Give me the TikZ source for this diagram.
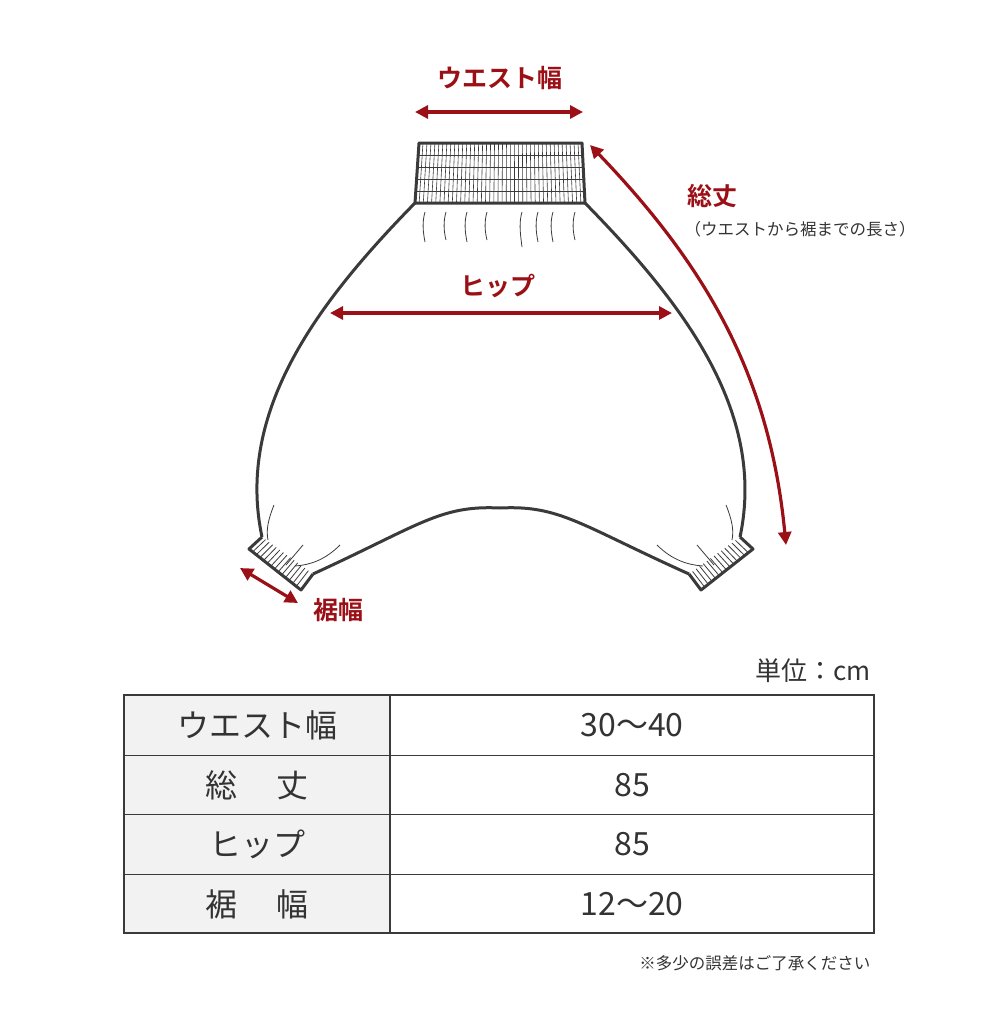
\documentclass[tikz,border=0pt]{standalone}
\usepackage{fontspec}
\setmainfont{Noto Sans CJK JP}[BoldFont={Noto Sans CJK JP Bold}]
\usetikzlibrary{arrows.meta,calc}
\definecolor{dred}{HTML}{9B1016}
\definecolor{ink}{HTML}{3A3A3A}
\definecolor{txt}{HTML}{333333}
\tikzset{
 outl/.style={draw=ink,line width=3pt,line join=round},
 thin/.style={draw=ink,line width=0.8pt},
 meas/.style={draw=dred,line width=3.2pt,{Triangle[length=13pt,width=13pt]}-{Triangle[length=13pt,width=13pt]}},
 lab/.style={text=dred,font=\fontsize{25}{25}\selectfont\bfseries},
 cell/.style={text=txt,font=\fontsize{32}{32}\selectfont}
}
\begin{document}
\begin{tikzpicture}[x=1pt,y=-1pt]
\useasboundingbox (0,0) rectangle (998,1033);
% waistband
\coordinate (wTL) at (419,143); \coordinate (wTR) at (582,143);
\coordinate (wBL) at (415,203); \coordinate (wBR) at (585,203);
\foreach \i in {1,...,40}{\draw[thin,line width=0.6pt] ($(wTL)!\i/41!(wTR)$) -- ($(wBL)!\i/41!(wBR)$);}
\foreach \t in {0.2,0.4,0.6,0.8}{\draw[thin,line width=0.6pt] ($(wTL)!\t!(wBL)$) -- ($(wTR)!\t!(wBR)$);}
\draw[outl] (wTL) -- (wTR) -- (wBR) -- (wBL) -- cycle;
% body
\coordinate (lA) at (262,537); \coordinate (lB) at (313,574);
\coordinate (rA) at (689,574); \coordinate (rB) at (740,537);
\draw[outl] (wBL) .. controls (320,300) and (235,410) .. (lA);
\draw[outl] (wBR) .. controls (680,300) and (767,410) .. (rB);
\draw[outl] (lB) .. controls (420,525) and (440,505) .. (500,508) .. controls (560,505) and (580,525) .. (rA);
% cuffs
\coordinate (lC) at (249,549); \coordinate (lD) at (301,590);
\coordinate (rC) at (701,590); \coordinate (rD) at (753,549);
\foreach \t in {0.07,0.14,...,0.95}{\draw[thin] ($(lA)!\t!(lB)$) -- ($(lC)!\t!(lD)$); \draw[thin] ($(rA)!\t!(rB)$) -- ($(rC)!\t!(rD)$);}
\draw[outl] (lA) -- (lC) -- (lD) -- (lB);
\draw[outl] (rB) -- (rD) -- (rC) -- (rA);
% gathers
\foreach \x/\l in {425/30,446/28,467/30,487/28,522/35,538/30,553/30,575/28}{\draw[thin] (\x,212) .. controls (\x-3,222) and (\x-2,232) .. (\x,212+\l);}
\draw[thin] (274,505) .. controls (268,520) and (266,530) .. (268,540);
\draw[thin] (303,545) -- (286,565);
\draw[thin] (340,545) .. controls (325,560) and (310,565) .. (295,566);
\draw[thin] (726,505) .. controls (732,520) and (734,530) .. (732,540);
\draw[thin] (697,545) -- (714,565);
\draw[thin] (657,545) .. controls (672,560) and (688,565) .. (703,566);
% measurements
\node[lab] (tw) at (500,78) {ウエスト幅};
\coordinate (w1) at (415,112); \coordinate (w2) at (583,112);
\draw[meas] (w1) -- (w2);
\node[lab] (th) at (498,286) {ヒップ};
\coordinate (h1) at (330,313); \coordinate (h2) at (672,313);
\draw[meas] (h1) -- (h2);
\node[lab] (tl) at (712,196) {総丈};
\node[text=txt,font=\fontsize{16.5}{16.5}\selectfont] (ts) at (800,229) {（ウエストから裾までの長さ）};
\coordinate (l1) at (590,145); \coordinate (l2) at (786,545);
\draw[meas] (l1) .. controls (710,270) and (770,380) .. (l2);
\node[lab] (tc) at (338,610) {裾幅};
\coordinate (c1) at (240,568); \coordinate (c2) at (298,603);
\draw[meas] (c1) -- (c2);
% table
\node[anchor=east,text=txt,font=\fontsize{26}{26}\selectfont] (unit) at (874,671) {単位：cm};
\fill[gray!10] (124,695) rectangle (390,933);
\foreach \y in {755,814,874}{\draw[ink,line width=1pt] (124,\y) -- (874,\y);}
\draw[ink,line width=1.5pt] (390,695) -- (390,933);
\draw[ink,line width=1.5pt] (124,695) rectangle (874,933);
\node[cell] (a1) at (257,725) {ウエスト幅};
\node[cell] (a2) at (257,785) {総\hspace{1.2em}丈};
\node[cell] (a3) at (257,844) {ヒップ};
\node[cell] (a4) at (257,904) {裾\hspace{1.2em}幅};
\node[cell] (b1) at (632,725) {30〜40};
\node[cell] (b2) at (632,785) {85};
\node[cell] (b3) at (632,844) {85};
\node[cell] (b4) at (632,904) {12〜20};
\node[anchor=east,text=txt,font=\fontsize{16.5}{16.5}\selectfont] (note) at (874,963) {※多少の誤差はご了承ください};
\end{tikzpicture}
\end{document}
